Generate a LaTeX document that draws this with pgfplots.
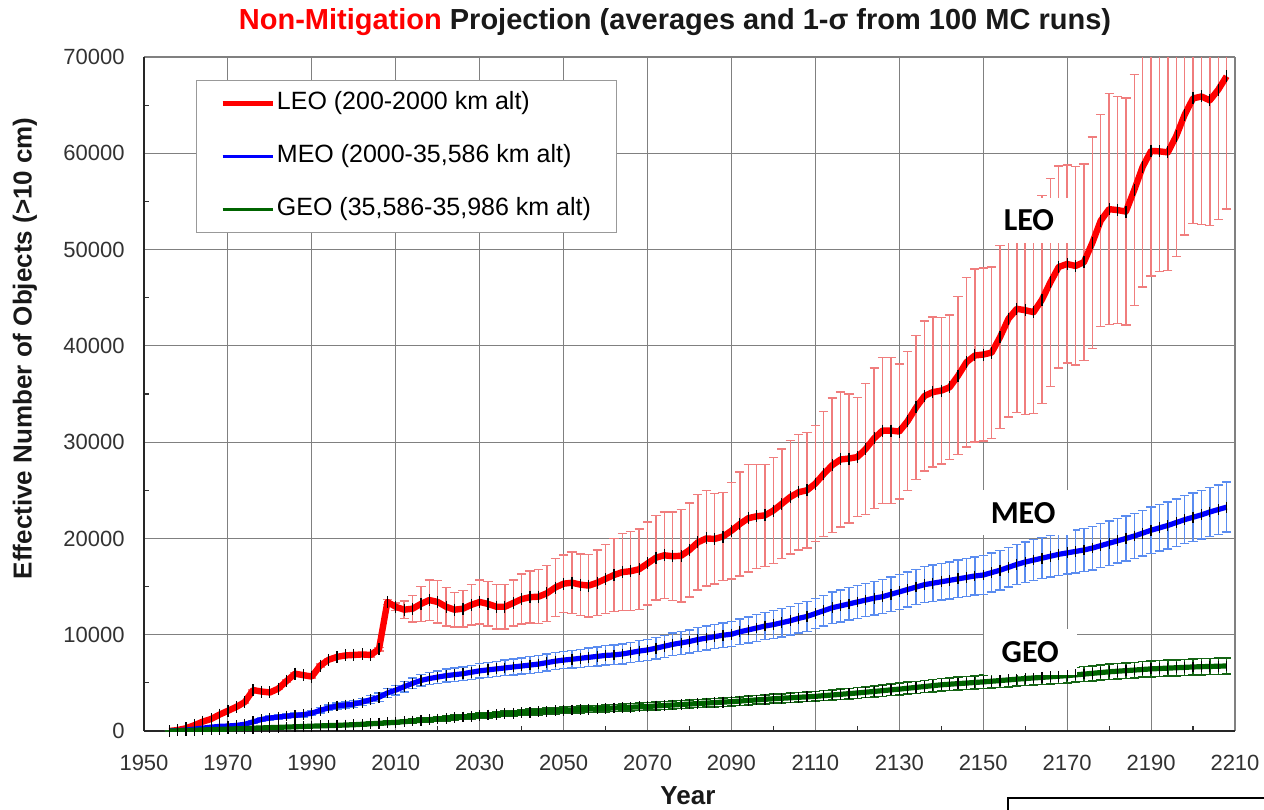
\documentclass[border=0pt]{standalone}
\usepackage{fontspec}
\setmainfont{Liberation Sans}
\newfontfamily\calibri{Carlito}
\usepackage{pgfplots}
\usepackage{pgfplotstable}
\pgfplotsset{compat=1.18}
\definecolor{leored}{RGB}{255,0,0}
\definecolor{leobar}{RGB}{240,125,125}
\definecolor{meoblue}{RGB}{0,0,255}
\definecolor{meobar}{RGB}{90,140,240}
\definecolor{geogreen}{RGB}{0,100,0}
\definecolor{geobar}{RGB}{20,100,20}
\definecolor{gridgray}{RGB}{128,128,128}
\definecolor{ticktext}{RGB}{50,50,50}

\pgfplotstableread{
year leo leoe meo meoe geo geoe
1956 0 0 0 0 0 0
1958 100 0 50 10 20 10
1960 280 0 100 20 50 20
1962 600 20 200 30 80 30
1964 970 30 300 40 110 40
1966 1250 40 400 50 140 50
1968 1700 50 480 60 170 60
1970 2100 60 520 100 200 70
1972 2500 70 580 110 230 75
1974 3000 80 700 120 260 80
1976 4250 90 950 140 290 85
1978 4100 100 1200 160 320 90
1980 4000 100 1350 200 350 100
1982 4400 100 1450 210 380 105
1984 5200 110 1550 220 410 110
1986 5950 120 1620 230 440 115
1988 5800 130 1700 240 470 120
1990 5650 140 1850 250 500 125
1992 6800 150 2150 270 530 130
1994 7400 160 2400 290 560 135
1996 7700 170 2600 310 590 140
1998 7850 180 2700 330 620 145
2000 7900 190 2800 350 650 150
2002 7950 200 3000 380 700 160
2004 7900 200 3250 410 750 170
2006 8500 200 3500 440 800 180
2008 13400 250 3950 470 850 190
2010 12900 400 4250 500 900 200
2012 12600 900 4600 530 970 210
2014 12700 1400 4950 560 1040 220
2016 13200 1800 5250 590 1110 230
2018 13600 2100 5450 620 1180 240
2020 13400 2200 5600 650 1250 250
2022 12900 2000 5750 670 1320 255
2024 12600 1800 5850 690 1390 260
2026 12700 1900 5950 710 1460 265
2028 13100 2100 6100 730 1530 270
2030 13400 2300 6250 750 1600 275
2032 13200 2300 6350 770 1660 280
2034 12900 2300 6450 790 1720 285
2036 12900 2300 6550 810 1780 290
2038 13300 2400 6650 830 1840 295
2040 13700 2600 6750 850 1900 300
2042 13900 2700 6850 860 1950 305
2044 13950 2800 6950 870 2000 310
2046 14300 2900 7100 880 2050 315
2048 14900 3000 7250 890 2100 320
2050 15300 3000 7370 900 2150 330
2052 15400 3200 7450 920 2190 335
2054 15200 3200 7550 940 2230 340
2056 15100 3250 7650 960 2270 345
2058 15400 3400 7750 980 2310 350
2060 15800 3600 7850 1000 2350 360
2062 16200 3800 7900 1020 2390 365
2064 16500 4000 8000 1040 2430 370
2066 16600 4100 8150 1060 2470 375
2068 16800 4200 8300 1080 2510 380
2070 17400 4300 8420 1100 2550 390
2072 18000 4400 8600 1120 2600 395
2074 18250 4500 8800 1140 2650 400
2076 18150 4600 9000 1160 2700 405
2078 18200 4800 9150 1180 2750 410
2080 18800 4900 9300 1200 2800 415
2082 19600 4950 9500 1220 2850 420
2084 20000 4950 9650 1240 2900 425
2086 19950 4700 9800 1260 2950 430
2088 20200 4600 9950 1280 3000 435
2090 20800 5000 10050 1300 3050 440
2092 21500 5400 10300 1320 3110 445
2094 22100 5600 10500 1350 3170 450
2096 22300 5400 10700 1380 3230 455
2098 22400 5300 10900 1410 3290 460
2100 22900 5500 11050 1440 3350 465
2102 23600 5700 11250 1470 3400 470
2104 24300 5900 11450 1500 3450 480
2106 24800 6000 11700 1530 3500 490
2108 25000 6000 11900 1550 3550 500
2110 25700 6000 12200 1570 3600 510
2112 26700 6500 12500 1600 3670 520
2114 27600 7000 12800 1630 3740 530
2116 28200 7000 13000 1660 3810 540
2118 28300 6700 13200 1690 3880 550
2120 28450 6200 13400 1710 3950 560
2122 29300 6800 13600 1730 4030 570
2124 30400 7300 13800 1750 4110 580
2126 31200 7600 13950 1770 4190 590
2128 31200 7600 14200 1790 4270 600
2130 31100 7000 14450 1800 4350 610
2132 32200 7200 14700 1820 4440 620
2134 33600 7500 14950 1840 4530 630
2136 34800 7800 15200 1860 4620 640
2138 35200 7800 15350 1880 4710 650
2140 35350 7600 15500 1900 4800 660
2142 35700 7500 15650 1920 4860 665
2144 36900 8200 15800 1940 4920 670
2146 38300 8800 15950 1960 4980 675
2148 39000 9000 16100 1980 5040 680
2150 39100 9000 16200 2000 5100 690
2152 39300 8900 16450 2020 5170 700
2154 40900 9500 16700 2040 5240 710
2156 42800 10200 17000 2060 5310 720
2158 43850 10800 17300 2080 5380 730
2160 43700 10800 17550 2100 5450 740
2162 43500 10500 17750 2120 5510 745
2164 44800 10800 17950 2140 5570 750
2166 46600 10800 18150 2160 5630 755
2168 48200 10500 18350 2180 5690 760
2170 48500 10300 18500 2200 5750 765
2172 48300 10300 18650 2220 5830 770
2174 48700 10200 18800 2240 5910 775
2176 50700 11000 19000 2260 5990 780
2178 53000 11000 19250 2280 6070 785
2180 54200 12000 19500 2300 6150 790
2182 54100 11800 19750 2320 6210 795
2184 53950 11800 20000 2340 6270 800
2186 56200 12000 20250 2360 6330 805
2188 58600 12500 20550 2380 6390 810
2190 60250 13000 20850 2400 6450 815
2192 60200 12500 21100 2420 6490 820
2194 60100 12300 21350 2440 6530 825
2196 61800 12500 21650 2460 6570 830
2198 64000 12500 21950 2480 6610 835
2200 65700 13000 22200 2500 6650 840
2202 65900 13300 22450 2520 6680 845
2204 65500 13000 22750 2540 6700 850
2206 66600 13500 23000 2570 6730 850
2208 68000 13800 23250 2600 6750 850
}\data

\begin{document}
\begin{tikzpicture}
\begin{axis}[
  scale only axis,
  width=545.5pt, height=337pt,
  xmin=1950, xmax=2210, ymin=0, ymax=70000,
  xtick={1950,1970,...,2210},
  ytick={0,10000,...,70000},
  minor x tick num=1, minor y tick num=1,
  tick align=inside,
  major tick length=0pt, minor tick length=2.5pt,
  tick style={draw=black!80, line width=0.6pt},
  xtick pos=bottom, ytick pos=left,
  grid=major,
  major grid style={draw=gridgray, line width=0.55pt},
  axis x line*=bottom, axis y line*=left,
  axis line style={-, draw=black!85, line width=1.1pt},
  scaled y ticks=false,
  /pgf/number format/1000 sep={},
  /pgf/number format/assume math mode=true,
  ticklabel style={font=\fontsize{11}{13}\selectfont, text=ticktext},
  xticklabel style={anchor=north, inner ysep=0pt, yshift=-12pt},
  yticklabel style={anchor=east, inner xsep=0pt, xshift=-9.5pt},
  xlabel={Year}, ylabel={Effective Number of Objects (>10 cm)},
  every axis x label/.style={at={(axis description cs:0.4986,-0.096)}, anchor=center,
    font=\bfseries\fontsize{13}{15}\selectfont, text=black!90},
  every axis y label/.style={at={(axis description cs:-0.1091,0.568)}, anchor=center, rotate=90,
    font=\bfseries\fontsize{13}{15}\selectfont, text=black!90},
  legend image code/.code={\draw[#1] (0pt,0pt) -- (25pt,0pt);},
  legend cell align=left,
  legend style={at={(axis description cs:0.0477,0.9659)}, anchor=north west,
    draw=gray!80, line width=0.5pt, fill=white,
    inner xsep=12pt, inner ysep=5.5pt, row sep=14.5pt,
    font=\fontsize{12.5}{14}\selectfont,
    nodes={inner xsep=1pt, inner ysep=0pt, text height=9pt, text depth=3pt}},
]
\addlegendimage{line width=2.2pt, color=leored}
\addlegendentry{LEO (200-2000 km alt)}
\addlegendimage{line width=1.8pt, color=meoblue}
\addlegendentry{MEO (2000-35,586 km alt)}
\addlegendimage{line width=1.8pt, color=geogreen}
\addlegendentry{GEO (35,586-35,986 km alt)}

% LEO
\addplot[forget plot, draw=none, mark=none,
  error bars/.cd, y dir=both, y explicit, error mark=-,
  error bar style={draw=leobar, line width=0.7pt},
  error mark options={draw=leobar, line width=0.7pt, rotate=90, mark size=2.3pt}]
  table[x=year, y=leo, y error=leoe] {\data};
\addplot[forget plot, color=leored, line width=3.2pt, line join=round,
  mark=|, mark options={draw=black, line width=0.6pt, mark size=3pt, solid}]
  table[x=year, y=leo] {\data};
% MEO
\addplot[forget plot, draw=none, mark=none,
  error bars/.cd, y dir=both, y explicit, error mark=-,
  error bar style={draw=meobar, line width=0.7pt},
  error mark options={draw=meobar, line width=0.7pt, rotate=90, mark size=2.3pt}]
  table[x=year, y=meo, y error=meoe] {\data};
\addplot[forget plot, color=meoblue, line width=2.6pt, line join=round,
  mark=|, mark options={draw=black, line width=0.6pt, mark size=2.7pt, solid}]
  table[x=year, y=meo] {\data};
% GEO
\addplot[forget plot, draw=none, mark=none,
  error bars/.cd, y dir=both, y explicit, error mark=-,
  error bar style={draw=geobar, line width=0.7pt},
  error mark options={draw=geobar, line width=0.8pt, rotate=90, mark size=2.3pt}]
  table[x=year, y=geo, y error=geoe] {\data};
\addplot[forget plot, color=geogreen, line width=2.6pt, line join=round,
  mark=|, mark options={draw=black, line width=0.6pt, mark size=2.7pt, solid}]
  table[x=year, y=geo] {\data};

\node[fill=white, font=\calibri\bfseries\fontsize{16}{18}\selectfont, inner xsep=9pt, inner ysep=6pt] at (axis cs:2160.9,53040) {LEO};
\node[fill=white, font=\calibri\bfseries\fontsize{16}{18}\selectfont, inner xsep=9pt, inner ysep=6pt] at (axis cs:2159.5,22680) {MEO};
\node[fill=white, font=\calibri\bfseries\fontsize{16}{18}\selectfont, inner xsep=9pt, inner ysep=6pt] at (axis cs:2161.2,8200) {GEO};
\end{axis}
\node[font=\bfseries\fontsize{14.5}{17}\selectfont, text=black!90] at (265.5pt,354.5pt)
  {\textcolor{red}{Non-Mitigation} Projection (averages and 1-σ from 100 MC runs)};
\draw[line width=0.8pt] (432pt,-45pt) -- (432pt,-33.5pt) -- (600pt,-33.5pt);
\pgfresetboundingbox
\useasboundingbox (-72pt,-39pt) rectangle (560pt,365.5pt);
\end{tikzpicture}
\end{document}
